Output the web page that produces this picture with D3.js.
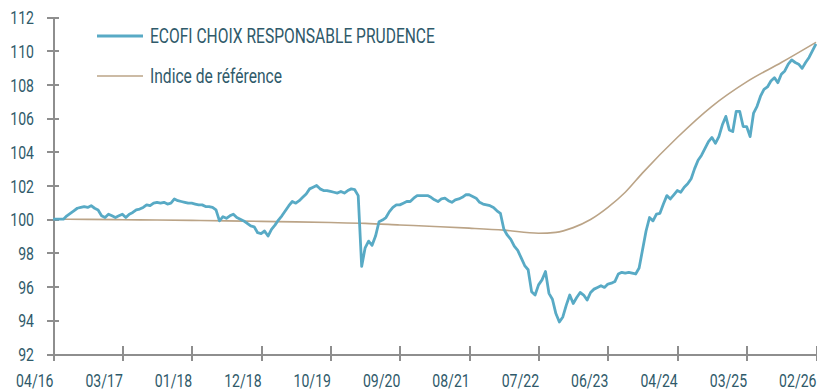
<!DOCTYPE html>
<html>
<head>
<meta charset="utf-8">
<script src="https://cdn.jsdelivr.net/npm/d3@7"></script>
<style>
  html, body { margin: 0; padding: 0; background: #fff; }
  svg { display: block; }
  text { font-family: Roboto, "Noto Sans", sans-serif; fill: #2f5a6a; }
</style>
</head>
<body>
<svg id="chart" width="817" height="391"></svg>
<script>
// Date labels on the horizontal axis (one every 20 weekly-ish points)
const dateLabels = ["04/16","03/17","01/18","12/18","10/19","09/20","08/21","07/22","06/23","04/24","03/25","02/26"];
const pointsPerLabel = 20;

// Fund net value, rebased to 100
const fundValues = [
  100.0,100.0,100.0,100.0,100.2,100.35,100.5,100.65,100.7,100.75,
  100.7,100.8,100.65,100.55,100.2,100.1,100.3,100.2,100.1,100.2,
  100.3,100.1,100.3,100.4,100.55,100.6,100.7,100.85,100.8,100.95,
  101.0,100.95,101.0,100.9,100.95,101.2,101.1,101.05,101.0,100.95,
  100.95,100.9,100.85,100.85,100.75,100.75,100.7,100.55,99.9,100.15,
  100.05,100.2,100.3,100.1,100.0,99.9,99.75,99.6,99.55,99.2,
  99.15,99.3,99.0,99.4,99.65,99.95,100.2,100.5,100.8,101.05,
  100.95,101.1,101.3,101.5,101.8,101.9,102.0,101.8,101.7,101.7,
  101.65,101.6,101.55,101.65,101.55,101.7,101.8,101.75,101.4,97.2,
  98.3,98.7,98.45,99.0,99.85,99.95,100.1,100.45,100.7,100.85,
  100.85,100.95,101.05,101.05,101.25,101.4,101.4,101.4,101.4,101.3,
  101.15,101.05,101.2,101.25,101.1,101.0,101.15,101.2,101.3,101.45,
  101.45,101.35,101.25,101.0,100.9,100.85,100.8,100.7,100.5,100.35,
  99.4,99.05,98.8,98.4,98.15,97.7,97.25,97.0,95.7,95.5,
  96.1,96.4,96.9,95.6,95.25,94.4,93.9,94.2,94.9,95.5,
  95.0,95.35,95.65,95.5,95.2,95.65,95.85,95.95,96.05,95.95,
  96.15,96.2,96.3,96.75,96.85,96.8,96.85,96.8,96.75,97.1,
  98.2,99.3,100.1,99.9,100.3,100.35,100.9,101.4,101.2,101.45,
  101.7,101.6,101.9,102.1,102.4,103.0,103.5,103.8,104.2,104.6,
  104.85,104.5,104.9,105.6,106.1,105.3,105.2,106.4,106.4,105.5,
  105.5,104.9,106.3,106.7,107.3,107.7,107.85,108.2,108.4,108.1,
  108.6,108.8,109.2,109.45,109.3,109.2,108.95,109.3,109.6,110.0,
  110.4
];

// Benchmark index, sampled on the same point scale
const benchIndex = [0,10,20,30,40,50,60,70,80,90,100,110,120,130,140,145,150,155,160,165,170,180,190,200,210,220];
const benchValues = [100.0,99.99,99.97,99.95,99.93,99.9,99.87,99.84,99.8,99.75,99.66,99.57,99.47,99.35,99.17,99.22,99.5,99.98,100.7,101.6,102.75,104.85,106.7,108.15,109.3,110.5];

const yTicks = [92,94,96,98,100,102,104,106,108,110,112];

const seriesNames = ["ECOFI CHOIX RESPONSABLE PRUDENCE", "Indice de référence"];
const colors = { fund: "#58aac5", bench: "#bba487", axis: "#8e8e8e" };

const svg = d3.select("#chart");
const sx = 0.74;   // horizontal squeeze for the condensed lettering (axes)
const sxLegend = 0.78;

const x = d3.scaleLinear().domain([0, fundValues.length - 1]).range([53, 816]);
const y = d3.scaleLinear().domain([92, 112]).range([354, 17]);

// Axes
const xAxis = d3.axisBottom(x)
  .tickValues(d3.range(0, fundValues.length, pointsPerLabel))
  .tickFormat(i => dateLabels[i / pointsPerLabel])
  .tickSizeOuter(0);
const yAxis = d3.axisLeft(y)
  .tickValues(yTicks)
  .tickFormat(d3.format("d"))
  .tickSizeOuter(0);

const gx = svg.append("g").attr("transform", `translate(0,${y(92)})`).call(xAxis);
gx.select(".domain").attr("stroke", colors.axis).attr("stroke-width", 2);
gx.selectAll(".tick line").attr("stroke", colors.axis).attr("stroke-width", 2).attr("y1", -8).attr("y2", 7);
gx.selectAll(".tick text")
  .attr("font-size", 19).attr("text-anchor", "end")
  .attr("dy", 0).attr("y", 33)
  .attr("x", 0)
  .attr("transform", `scale(${sx},1)`)
  .style("font-family", "Roboto").attr("fill", "#2f5a6a");

const gy = svg.append("g").attr("transform", `translate(${x(0)},0)`).call(yAxis);
gy.select(".domain").attr("stroke", colors.axis).attr("stroke-width", 2);
gy.selectAll(".tick line").attr("stroke", colors.axis).attr("stroke-width", 2).attr("x1", -6).attr("x2", 6);
gy.selectAll(".tick text")
  .attr("font-size", 19).attr("text-anchor", "end")
  .attr("x", -19 / sx).attr("dy", "0.35em")
  .attr("transform", `scale(${sx},1)`)
  .style("font-family", "Roboto").attr("fill", "#2f5a6a");
svg.selectAll(".domain, .tick line").attr("shape-rendering", "crispEdges");

// Lines
const benchLine = d3.line()
  .x((d, i) => x(benchIndex[i]))
  .y(d => y(d))
  .curve(d3.curveMonotoneX);
svg.append("path")
  .datum(benchValues)
  .attr("fill", "none")
  .attr("stroke", colors.bench)
  .attr("stroke-width", 1.6)
  .attr("d", benchLine);

const fundLine = d3.line()
  .x((d, i) => x(i))
  .y(d => y(d));
svg.append("path")
  .datum(fundValues)
  .attr("fill", "none")
  .attr("stroke", colors.fund)
  .attr("stroke-width", 2.8)
  .attr("stroke-linejoin", "round")
  .attr("d", fundLine);

// Legend
const legend = svg.append("g");
const legendRows = [
  { name: seriesNames[0], color: colors.fund, width: 2.8, cy: 36 },
  { name: seriesNames[1], color: colors.bench, width: 1.6, cy: 76 }
];
legendRows.forEach(r => {
  legend.append("line")
    .attr("x1", 97).attr("x2", 143)
    .attr("y1", r.cy).attr("y2", r.cy)
    .attr("stroke", r.color).attr("stroke-width", r.width);
  legend.append("text")
    .attr("transform", `translate(150,${r.cy + 7}) scale(${sxLegend},1)`)
    .attr("font-size", 20)
    .text(r.name);
});
</script>
</body>
</html>
